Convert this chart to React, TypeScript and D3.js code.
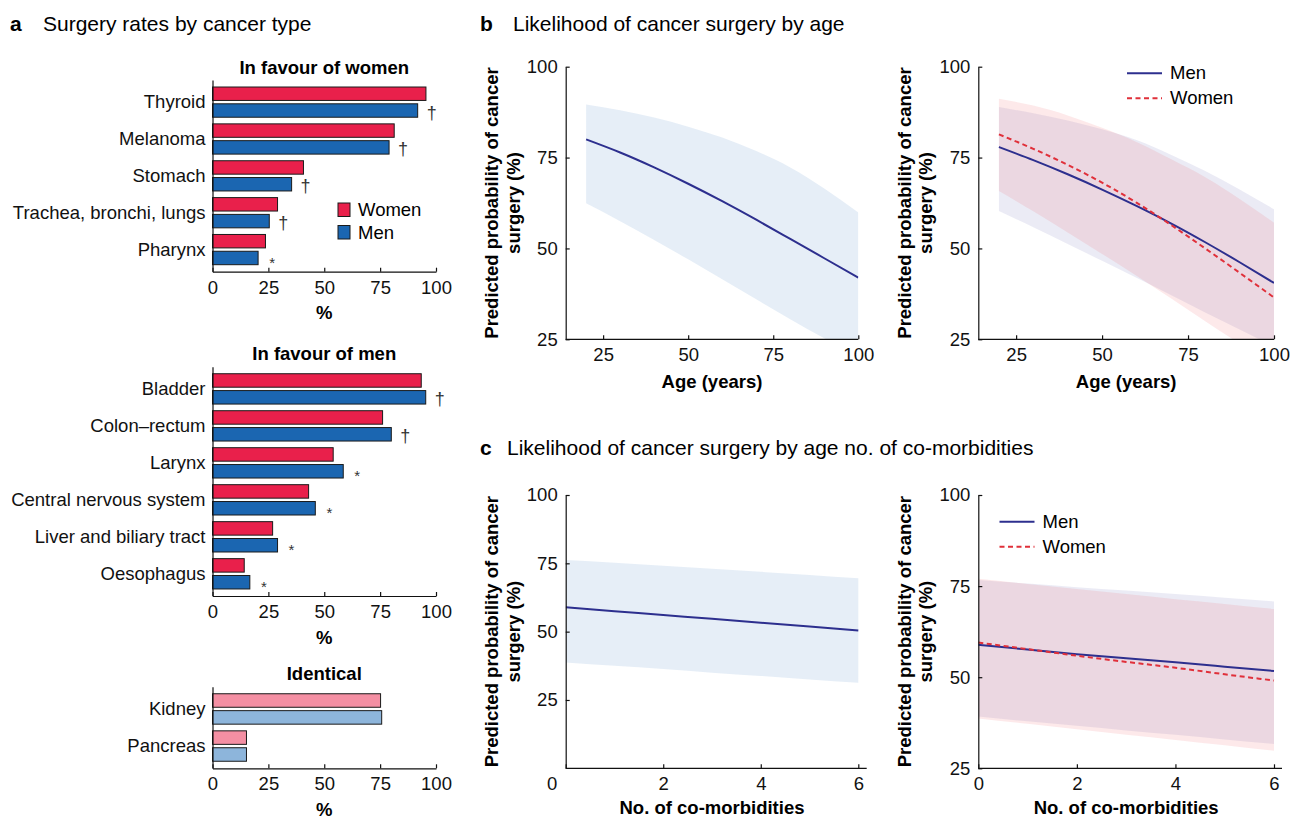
import React, { useRef, useEffect } from 'react';
import * as d3 from 'd3';

const W = 1291;
const H = 819;
const FONT = '"Liberation Sans", Arial, Helvetica, sans-serif';
const FS = 18.5; // body text size
const HS = 21; // panel heading size

// ---- panel a: surgery rates (%) ----
const womenFavCats = ['Thyroid', 'Melanoma', 'Stomach', 'Trachea, bronchi, lungs', 'Pharynx'];
const womenFavWomen = [95.5, 81.3, 40.7, 29.1, 23.7];
const womenFavMen = [91.8, 79.0, 35.4, 25.4, 20.4];
const womenFavSig = ['†', '†', '†', '†', '*'];

const menFavCats = ['Bladder', 'Colon–rectum', 'Larynx', 'Central nervous system', 'Liver and biliary tract', 'Oesophagus'];
const menFavWomen = [93.4, 76.1, 54.0, 43.0, 26.9, 14.2];
const menFavMen = [95.4, 80.0, 58.5, 46.0, 29.1, 16.7];
const menFavSig = ['†', '†', '*', '*', '*', '*'];

const identCats = ['Kidney', 'Pancreas'];
const identWomen = [75.2, 15.2];
const identMen = [75.7, 15.2];

const pctTicks = [0, 25, 50, 75, 100];

// ---- panel b: by age ----
const ages = [20, 30, 40, 50, 60, 70, 80, 90, 100];
const ageAllFit = [80.0, 76.4, 72.3, 67.8, 63.0, 57.9, 52.6, 47.3, 42.0];
const ageAllUpper = [89.6, 88.0, 86.0, 83.5, 80.5, 76.8, 72.3, 66.5, 59.9];
const ageAllLower = [62.4, 57.5, 52.3, 47.0, 41.5, 36.0, 30.5, 25.3, 20.5];

const ageMenFit = [77.9, 74.3, 70.4, 66.2, 61.7, 56.9, 51.7, 46.2, 40.5];
const ageMenUpper = [88.9, 87.2, 85.2, 82.8, 79.8, 75.8, 71.3, 66.2, 60.8];
const ageMenLower = [60.3, 55.8, 51.2, 46.6, 41.9, 37.2, 32.4, 27.7, 23.0];
const ageWomenFit = [81.4, 77.4, 73.0, 68.1, 62.6, 56.5, 50.0, 43.3, 36.5];
const ageWomenUpper = [91.2, 89.3, 86.6, 83.2, 79.3, 74.6, 69.6, 63.6, 57.1];
const ageWomenLower = [65.8, 60.2, 54.4, 48.5, 42.5, 36.3, 30.0, 23.8, 17.6];

const ageTicks = [25, 50, 75, 100];
const probTicks = [25, 50, 75, 100];

// ---- panel c: by number of co-morbidities ----
const comorb = [0, 1, 2, 3, 4, 5, 6];
const comAllFit = [58.9, 57.5, 56.1, 54.7, 53.3, 51.9, 50.4];
const comAllUpper = [76.2, 75.2, 74.1, 73.0, 71.9, 70.7, 69.5];
const comAllLower = [38.7, 37.5, 36.3, 35.0, 33.8, 32.5, 31.3];

const comMenFit = [58.9, 57.6, 56.3, 55.2, 54.1, 52.9, 51.7];
const comMenUpper = [76.7, 75.7, 74.7, 73.8, 72.8, 71.8, 70.8];
const comMenLower = [39.2, 37.9, 36.7, 35.4, 34.2, 32.9, 31.7];
const comWomenFit = [59.5, 57.7, 55.9, 54.2, 52.6, 50.8, 49.1];
const comWomenUpper = [77.0, 75.6, 74.2, 72.8, 71.4, 70.1, 68.7];
const comWomenLower = [38.7, 37.2, 35.7, 34.2, 32.8, 31.3, 29.8];

const comTicks = [0, 2, 4, 6];

const RED = '#e9204b';
const BLUE = '#1b66b1';
const PINK = '#f48fa3';
const LIGHTBLUE = '#8db5db';
const NAVY = '#2d2f8e';
const DASHRED = '#e0303a';

const App = () => {
  const svgRef = useRef(null);

  useEffect(() => {
    const svg = d3.select(svgRef.current);
    svg.selectAll('*').remove();
    svg.attr('font-family', FONT);

    const styleAxis = (g) => {
      g.attr('font-size', FS).attr('font-family', FONT);
      g.selectAll('path').attr('stroke', '#111').attr('stroke-width', 1.2);
      g.selectAll('line').attr('stroke', '#111').attr('stroke-width', 1.2);
      g.selectAll('text').attr('fill', '#111');
    };

    // panel headers
    const header = (letter, text, x, tx, y) => {
      svg.append('text').attr('x', x).attr('y', y).attr('font-size', HS).attr('font-weight', 'bold').text(letter);
      svg.append('text').attr('x', tx).attr('y', y).attr('font-size', HS).text(text);
    };
    header('a', 'Surgery rates by cancer type', 10, 43, 31);
    header('b', 'Likelihood of cancer surgery by age', 480, 513, 31);
    header('c', 'Likelihood of cancer surgery by age no. of co-morbidities', 480, 507, 455);

    // ---------- panel a ----------
    const barX = d3.scaleLinear().domain([0, 100]).range([212.5, 436]);

    const drawBars = (cats, women, men, sig, top, bottom, title, cW, cM, legend) => {
      const g = svg.append('g');
      const y = d3.scaleBand().domain(cats).range([top, bottom]).paddingInner(0.18).paddingOuter(0.19);
      const sub = d3.scaleBand().domain(['Women', 'Men']).range([0, y.bandwidth()]).paddingInner(0.2);

      cats.forEach((c, i) => {
        g.append('rect')
          .attr('x', barX(0)).attr('y', y(c) + sub('Women'))
          .attr('width', barX(women[i]) - barX(0)).attr('height', sub.bandwidth())
          .attr('fill', cW).attr('stroke', '#1a1a1a').attr('stroke-width', 1);
        g.append('rect')
          .attr('x', barX(0)).attr('y', y(c) + sub('Men'))
          .attr('width', barX(men[i]) - barX(0)).attr('height', sub.bandwidth())
          .attr('fill', cM).attr('stroke', '#1a1a1a').attr('stroke-width', 1);
        if (sig && sig[i]) {
          const cy = y(c) + sub('Men') + sub.bandwidth() / 2;
          const dagger = sig[i] === '†';
          g.append('text')
            .attr('x', barX(men[i]) + 14)
            .attr('y', dagger ? cy + 8 : cy + 10)
            .attr('text-anchor', 'middle')
            .attr('font-size', dagger ? 18 : 15)
            .attr('fill', '#333')
            .text(sig[i]);
        }
      });

      const gx = g.append('g').attr('transform', `translate(0,${bottom})`)
        .call(d3.axisBottom(barX).tickValues(pctTicks).tickSizeInner(-4).tickSizeOuter(0).tickPadding(9).tickFormat(d3.format('d')));
      styleAxis(gx);

      const gy = g.append('g').attr('transform', `translate(${barX(0)},0)`)
        .call(d3.axisLeft(y).tickSize(0).tickPadding(7));
      styleAxis(gy);

      g.append('text').attr('x', (barX(0) + barX(100)) / 2).attr('y', top - 6.5)
        .attr('text-anchor', 'middle').attr('font-size', FS).attr('font-weight', 'bold').text(title);
      g.append('text').attr('x', (barX(0) + barX(100)) / 2).attr('y', bottom + 47.5)
        .attr('text-anchor', 'middle').attr('font-size', FS).attr('font-weight', 'bold').text('%');

      if (legend) {
        [['Women', cW], ['Men', cM]].forEach(([name, col], k) => {
          g.append('rect').attr('x', legend.x).attr('y', legend.y + k * 22.5)
            .attr('width', 12).attr('height', 13.5)
            .attr('fill', col).attr('stroke', '#1a1a1a').attr('stroke-width', 1);
          g.append('text').attr('x', legend.x + 20).attr('y', legend.y + k * 22.5 + 13)
            .attr('font-size', FS).text(name);
        });
      }
    };

    drawBars(womenFavCats, womenFavWomen, womenFavMen, womenFavSig, 80, 271.7, 'In favour of women', RED, BLUE, { x: 338, y: 203 });
    drawBars(menFavCats, menFavWomen, menFavMen, menFavSig, 366.7, 596, 'In favour of men', RED, BLUE, null);
    drawBars(identCats, identWomen, identMen, null, 686.7, 768.3, 'Identical', PINK, LIGHTBLUE, null);

    // ---------- panels b and c ----------
    let clipId = 0;
    const drawLines = (o) => {
      const g = svg.append('g');
      const x = d3.scaleLinear().domain(o.xd).range(o.xr);
      const y = d3.scaleLinear().domain(o.yd).range(o.yr);
      const id = 'clip' + (clipId++);
      g.append('clipPath').attr('id', id).append('rect')
        .attr('x', o.xr[0]).attr('y', o.yr[1])
        .attr('width', o.xr[1] - o.xr[0] + o.ext).attr('height', o.yr[0] - o.yr[1]);
      const plot = g.append('g').attr('clip-path', `url(#${id})`);

      o.series.forEach((s) => {
        const area = d3.area()
          .x((d, i) => x(s.xs[i]))
          .y0((d, i) => y(s.lo[i]))
          .y1((d, i) => y(s.hi[i]))
          .curve(d3.curveNatural);
        plot.append('path').attr('d', area(s.xs)).attr('fill', s.band).attr('fill-opacity', s.bandOpacity).attr('stroke', 'none');
      });
      o.series.forEach((s) => {
        const line = d3.line()
          .x((d, i) => x(s.xs[i]))
          .y((d, i) => y(s.fit[i]))
          .curve(d3.curveNatural);
        plot.append('path').attr('d', line(s.xs)).attr('fill', 'none')
          .attr('stroke', s.color).attr('stroke-width', 2)
          .attr('stroke-dasharray', s.dash || null);
      });

      const gx = g.append('g').attr('transform', `translate(0,${o.yr[0]})`)
        .call(d3.axisBottom(x).tickValues(o.xTicks).tickSizeInner(-4).tickSizeOuter(0).tickPadding(9).tickFormat(d3.format('d')));
      gx.select('.domain').remove();
      gx.append('line').attr('x1', o.xr[0]).attr('x2', o.xr[1] + o.ext).attr('y1', 0).attr('y2', 0);
      if (o.zeroShift) {
        gx.selectAll('.tick').filter((d) => d === 0).select('text').attr('dx', o.zeroShift);
      }
      styleAxis(gx);

      const gy = g.append('g').attr('transform', `translate(${o.xr[0]},0)`)
        .call(d3.axisLeft(y).tickValues(probTicks).tickSizeInner(-4).tickSizeOuter(0).tickPadding(8));
      styleAxis(gy);

      // y title on two lines
      const cy = (o.yr[0] + o.yr[1]) / 2;
      ['Predicted probability of cancer', 'surgery (%)'].forEach((t, k) => {
        g.append('text')
          .attr('transform', `translate(${o.xr[0] - 67.5 + k * 21.5},${cy}) rotate(-90)`)
          .attr('text-anchor', 'middle').attr('font-size', FS).attr('font-weight', 'bold').text(t);
      });
      g.append('text').attr('x', (o.xr[0] + o.xr[1]) / 2).attr('y', o.yr[0] + o.titleGap)
        .attr('text-anchor', 'middle').attr('font-size', FS).attr('font-weight', 'bold').text(o.xTitle);

      if (o.legend) {
        o.series.forEach((s, k) => {
          const ly = o.legend.y + k * 25;
          g.append('line').attr('x1', o.legend.x).attr('x2', o.legend.x + 35)
            .attr('y1', ly).attr('y2', ly)
            .attr('stroke', s.color).attr('stroke-width', 2).attr('stroke-dasharray', s.dash || null);
          g.append('text').attr('x', o.legend.x + 43).attr('y', ly + 6)
            .attr('font-size', FS).text(s.name);
        });
      }
    };

    const bandBlue = '#dbe7f3';

    drawLines({
      xr: [565.7, 858.3], yr: [339.3, 66.7], xd: [14, 100], yd: [25, 100], ext: 0, titleGap: 49,
      xTicks: ageTicks, xTitle: 'Age (years)',
      series: [{ name: 'All', xs: ages, fit: ageAllFit, lo: ageAllLower, hi: ageAllUpper, color: NAVY, band: bandBlue, bandOpacity: 0.7 }],
    });
    drawLines({
      xr: [978.3, 1274], yr: [339.3, 66.7], xd: [14, 100], yd: [25, 100], ext: 0, titleGap: 49,
      xTicks: ageTicks, xTitle: 'Age (years)', legend: { x: 1127, y: 73.3 },
      series: [
        { name: 'Men', xs: ages, fit: ageMenFit, lo: ageMenLower, hi: ageMenUpper, color: NAVY, band: '#3b3b9c', bandOpacity: 0.1 },
        { name: 'Women', xs: ages, fit: ageWomenFit, lo: ageWomenLower, hi: ageWomenUpper, color: DASHRED, dash: '5,3.5', band: '#ee4a55', bandOpacity: 0.12 },
      ],
    });
    drawLines({
      xr: [565.7, 858.3], yr: [768.3, 495], xd: [0, 6], yd: [0, 100], ext: 8.4, titleGap: 46,
      xTicks: comTicks, xTitle: 'No. of co-morbidities', zeroShift: -14,
      series: [{ name: 'All', xs: comorb, fit: comAllFit, lo: comAllLower, hi: comAllUpper, color: NAVY, band: bandBlue, bandOpacity: 0.7 }],
    });
    drawLines({
      xr: [978.3, 1274], yr: [768.3, 495], xd: [0, 6], yd: [25, 100], ext: 8, titleGap: 46,
      xTicks: comTicks, xTitle: 'No. of co-morbidities', legend: { x: 999.5, y: 521.7 },
      series: [
        { name: 'Men', xs: comorb, fit: comMenFit, lo: comMenLower, hi: comMenUpper, color: NAVY, band: '#3b3b9c', bandOpacity: 0.1 },
        { name: 'Women', xs: comorb, fit: comWomenFit, lo: comWomenLower, hi: comWomenUpper, color: DASHRED, dash: '5,3.5', band: '#ee4a55', bandOpacity: 0.12 },
      ],
    });
  }, []);

  return (
    <svg ref={svgRef} width={W} height={H} style={{ position: 'absolute', left: 0, top: 0, background: '#fff' }} />
  );
};

export default App;
